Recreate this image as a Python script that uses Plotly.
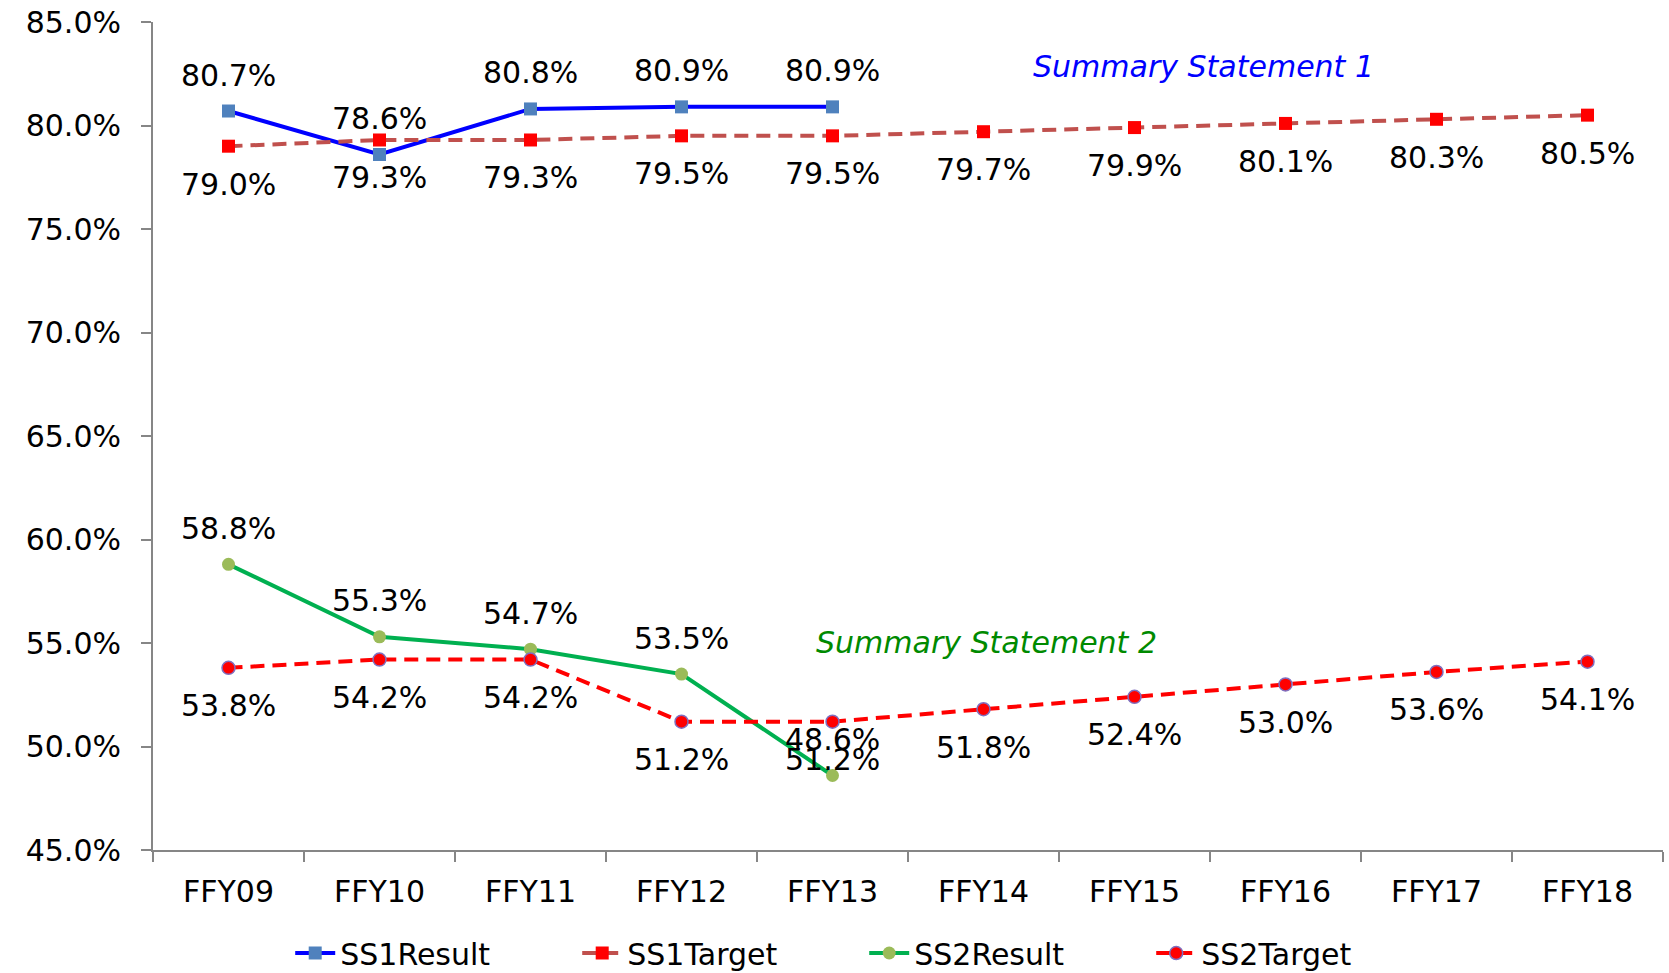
import plotly.graph_objects as go

categories = ["FFY09", "FFY10", "FFY11", "FFY12", "FFY13", "FFY14", "FFY15", "FFY16", "FFY17", "FFY18"]
ss1_result = [80.7, 78.6, 80.8, 80.9, 80.9]
ss1_target = [79.0, 79.3, 79.3, 79.5, 79.5, 79.7, 79.9, 80.1, 80.3, 80.5]
ss2_result = [58.8, 55.3, 54.7, 53.5, 48.6]
ss2_target = [53.8, 54.2, 54.2, 51.2, 51.2, 51.8, 52.4, 53.0, 53.6, 54.1]

FONT = "DejaVu Sans"
FS = 30
fig = go.Figure()

series = [
    ("SS1Result", ss1_result, dict(color="#0000FF", width=4, dash="solid"),
     dict(symbol="square", size=13, color="#4F81BD"), 36),
    ("SS1Target", ss1_target, dict(color="#C0504D", width=4, dash="14px,8px"),
     dict(symbol="square", size=13, color="#FF0000"), -38),
    ("SS2Result", ss2_result, dict(color="#00B050", width=4, dash="solid"),
     dict(symbol="circle", size=13, color="#9BBB59"), 36),
    ("SS2Target", ss2_target, dict(color="#FF0000", width=4, dash="14px,8px"),
     dict(symbol="circle", size=13, color="#FF0000", line=dict(color="#7F6FBF", width=1.5)), -38),
]

annotations = []
for name, vals, line, marker, shift in series:
    xs = categories[:len(vals)]
    fig.add_trace(go.Scatter(x=xs, y=vals, name=name, mode="lines+markers",
                             line=line, marker=marker))
    for xv, yv in zip(xs, vals):
        annotations.append(dict(x=xv, y=yv, xref="x", yref="y", text=f"{yv:.1f}%",
                                showarrow=False, yshift=shift,
                                xanchor="center", yanchor="middle",
                                font=dict(family=FONT, size=FS, color="black")))

annotations.append(dict(x=0.696, y=0.946, xref="paper", yref="paper",
                        xanchor="center", yanchor="middle",
                        text="<i>Summary Statement 1</i>", showarrow=False,
                        font=dict(family=FONT, size=FS, color="#0000FF")))
annotations.append(dict(x=0.552, y=0.251, xref="paper", yref="paper",
                        xanchor="center", yanchor="middle",
                        text="<i>Summary Statement 2</i>", showarrow=False,
                        font=dict(family=FONT, size=FS, color="#008A00")))

fig.update_layout(
    width=1669, height=973,
    margin=dict(l=153, r=6, t=22, b=123, autoexpand=False),
    paper_bgcolor="white", plot_bgcolor="white",
    font=dict(family=FONT, size=FS, color="black"),
    annotations=annotations,
    showlegend=True,
    legend=dict(orientation="h", x=0.471, xanchor="center", y=-0.1244, yanchor="middle",
                font=dict(family=FONT, size=FS, color="black"), traceorder="normal",
                entrywidth=232, itemwidth=40),
    xaxis=dict(type="category", range=[-0.5, 9.5], showline=True, linecolor="#868686",
               linewidth=2, ticks="outside", tickson="boundaries", ticklen=10,
               tickcolor="#868686", tickwidth=2, showgrid=False, zeroline=False,
               automargin=False, ticklabelstandoff=14,
               tickfont=dict(family=FONT, size=FS, color="black")),
    yaxis=dict(range=[45, 85], dtick=5, tickformat=".1f", ticksuffix="%",
               showline=True, linecolor="#868686", linewidth=2, ticks="outside",
               ticklen=10, tickcolor="#868686", tickwidth=2, showgrid=False,
               zeroline=False, automargin=False, ticklabelstandoff=14,
               tickfont=dict(family=FONT, size=FS, color="black")),
)

fig.write_html("out.html", config={"displayModeBar": False},
               post_script="document.body.style.margin='0';document.body.style.overflow='hidden';")
